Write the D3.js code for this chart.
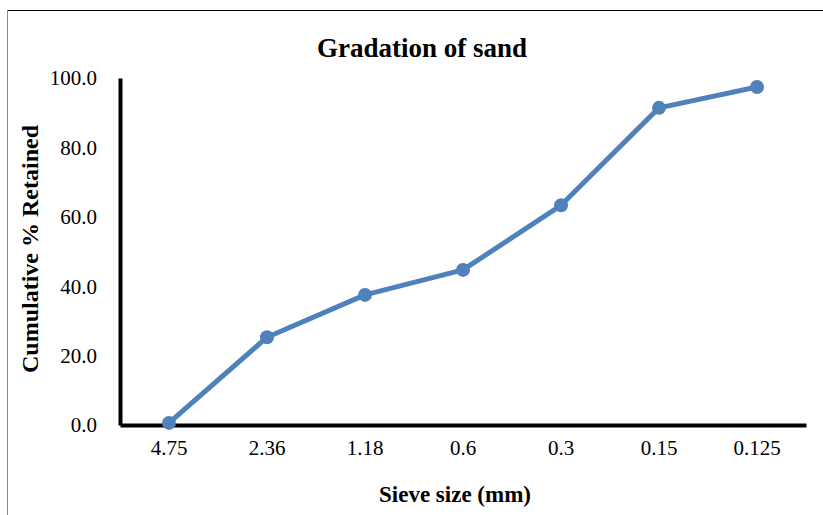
<!DOCTYPE html>
<html>
<head>
<meta charset="utf-8">
<script src="https://cdn.jsdelivr.net/npm/d3@7"></script>
<style>
  html, body { margin: 0; padding: 0; background: #fff; }
  svg { display: block; }
  text { font-family: "Liberation Serif", "Times New Roman", serif; fill: #000; }
</style>
</head>
<body>
<svg id="chart" width="823" height="515"></svg>
<script>
const categories = ["4.75", "2.36", "1.18", "0.6", "0.3", "0.15", "0.125"];
const retained = [0.6, 25.3, 37.5, 44.7, 63.3, 91.4, 97.4];
const yTicks = [0, 20, 40, 60, 80, 100];
const chartTitle = "Gradation of sand";
const xTitle = "Sieve size (mm)";
const yTitle = "Cumulative % Retained";

const svg = d3.select("#chart");
const plot = { left: 120, right: 806, top: 78, bottom: 425 };

// frame
svg.append("line").attr("x1", 8).attr("x2", 823).attr("y1", 10.5).attr("y2", 10.5)
  .attr("stroke", "#000").attr("stroke-width", 1);
svg.append("line").attr("x1", 7.5).attr("x2", 7.5).attr("y1", 10).attr("y2", 515)
  .attr("stroke", "#888").attr("stroke-width", 1);

const x = d3.scaleBand().domain(categories).range([plot.left, plot.right]);
const y = d3.scaleLinear().domain([0, 100]).range([plot.bottom, plot.top]);

// y axis
const yAxis = svg.append("g").attr("transform", `translate(${plot.left},0)`)
  .call(d3.axisLeft(y).tickValues(yTicks).tickSize(0).tickPadding(23).tickFormat(d3.format(".1f")));
yAxis.select(".domain").attr("stroke", "#000").attr("stroke-width", 4);
yAxis.selectAll("text").attr("font-size", 21).attr("font-family", "Liberation Serif").attr("dy", "0.33em");

// x axis
const xAxis = svg.append("g").attr("transform", `translate(0,${plot.bottom})`)
  .call(d3.axisBottom(x).tickSize(0).tickPadding(15));
xAxis.select(".domain").attr("stroke", "#000").attr("stroke-width", 4);
xAxis.selectAll("text").attr("font-size", 21).attr("font-family", "Liberation Serif");

// line
const line = d3.line()
  .x((d, i) => x(categories[i]) + x.bandwidth() / 2)
  .y(d => y(d));
svg.append("path").datum(retained)
  .attr("d", line).attr("fill", "none")
  .attr("stroke", "#4F81BD").attr("stroke-width", 5).attr("stroke-linejoin", "round");
svg.selectAll("circle.pt").data(retained).enter().append("circle")
  .attr("class", "pt")
  .attr("cx", (d, i) => x(categories[i]) + x.bandwidth() / 2)
  .attr("cy", d => y(d))
  .attr("r", 7)
  .attr("fill", "#4F81BD");

// titles
svg.append("text").attr("x", 422).attr("y", 57).attr("text-anchor", "middle")
  .attr("font-size", 27).attr("font-weight", "bold").text(chartTitle);
svg.append("text").attr("x", 455).attr("y", 502).attr("text-anchor", "middle")
  .attr("font-size", 23).attr("font-weight", "bold").text(xTitle);
svg.append("text").attr("transform", "translate(38,249) rotate(-90)").attr("text-anchor", "middle")
  .attr("font-size", 24).attr("font-weight", "bold").text(yTitle);
</script>
</body>
</html>
